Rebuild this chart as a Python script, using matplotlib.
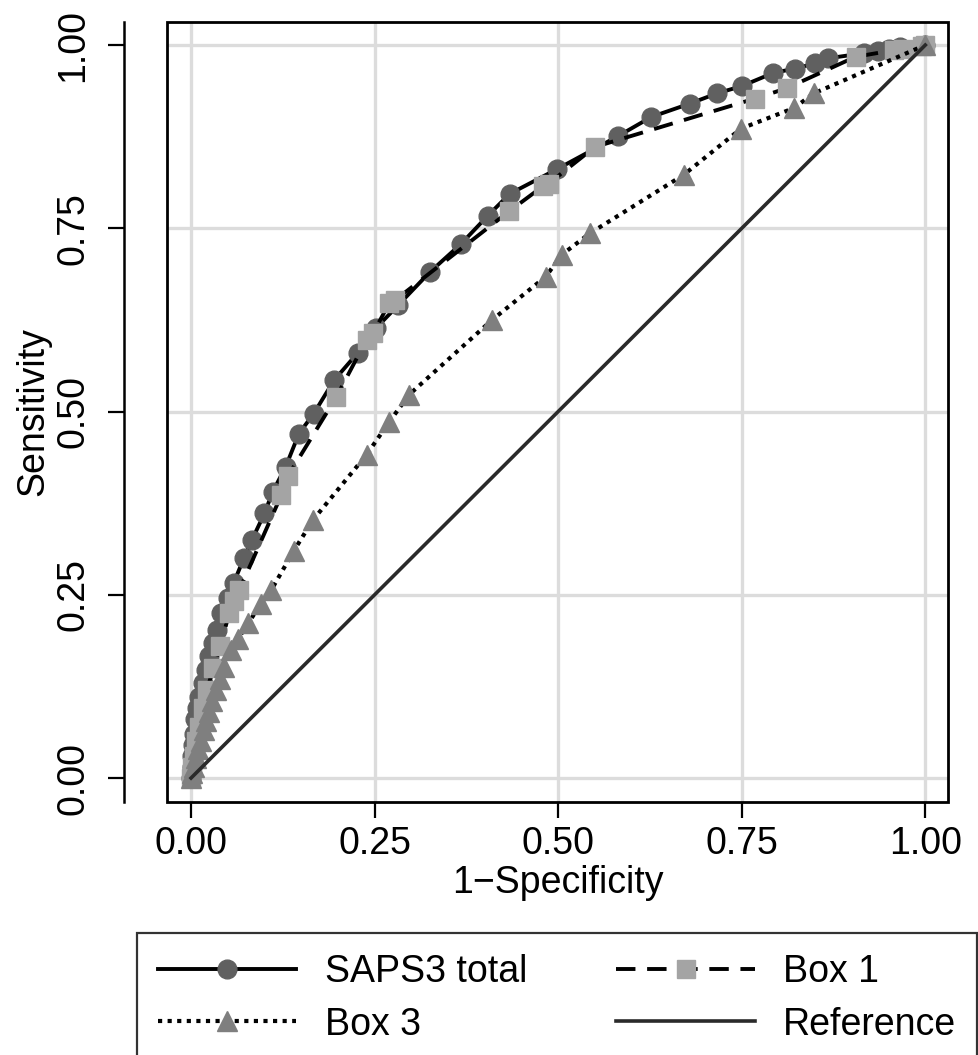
import matplotlib
matplotlib.use("Agg")
import matplotlib.pyplot as plt
from matplotlib.patches import Rectangle

plt.rcParams['font.family'] = ['Liberation Sans', 'DejaVu Sans']

# ============================================================
# DATA - ROC curve points
# ============================================================
saps3_x = [0, 0.001, 0.002, 0.003, 0.004, 0.006, 0.008, 0.011, 0.016, 0.020,
           0.025, 0.030, 0.036, 0.041, 0.050, 0.058, 0.072, 0.083, 0.100, 0.111,
           0.129, 0.147, 0.167, 0.195, 0.227, 0.252, 0.282, 0.325, 0.368, 0.404,
           0.434, 0.499, 0.582, 0.627, 0.679, 0.716, 0.750, 0.793, 0.823, 0.850,
           0.868, 0.917, 0.935, 0.950, 0.965, 1.0]
saps3_y = [0, 0.015, 0.030, 0.045, 0.060, 0.080, 0.095, 0.111, 0.130, 0.148,
           0.166, 0.184, 0.202, 0.225, 0.245, 0.266, 0.300, 0.325, 0.361, 0.390,
           0.425, 0.470, 0.497, 0.543, 0.580, 0.614, 0.645, 0.690, 0.729, 0.767,
           0.797, 0.831, 0.876, 0.902, 0.920, 0.934, 0.944, 0.962, 0.968, 0.975,
           0.982, 0.989, 0.992, 0.994, 0.997, 1.0]

box1_x = [0, 0.002, 0.004, 0.007, 0.011, 0.016, 0.022, 0.030, 0.040, 0.052,
          0.059, 0.066, 0.123, 0.132, 0.198, 0.239, 0.248, 0.270, 0.278, 0.433,
          0.480, 0.487, 0.550, 0.768, 0.811, 0.905, 0.957, 0.970, 0.995, 1.0]
box1_y = [0, 0.015, 0.030, 0.050, 0.070, 0.095, 0.120, 0.150, 0.180, 0.225,
          0.242, 0.257, 0.386, 0.412, 0.520, 0.598, 0.607, 0.648, 0.652, 0.773,
          0.808, 0.811, 0.861, 0.927, 0.941, 0.984, 0.993, 0.994, 0.999, 1.0]

box3_x = [0, 0.002, 0.004, 0.007, 0.010, 0.013, 0.017, 0.021, 0.025, 0.029,
          0.034, 0.040, 0.045, 0.055, 0.064, 0.078, 0.095, 0.109, 0.140, 0.166,
          0.239, 0.270, 0.297, 0.410, 0.483, 0.505, 0.543, 0.671, 0.749, 0.821,
          0.848, 1.0]
box3_y = [0, 0.007, 0.015, 0.028, 0.040, 0.050, 0.065, 0.078, 0.090, 0.105,
          0.120, 0.135, 0.152, 0.175, 0.190, 0.211, 0.238, 0.256, 0.310, 0.352,
          0.441, 0.486, 0.523, 0.625, 0.684, 0.714, 0.743, 0.823, 0.886, 0.914,
          0.934, 1.0]

ref_x = [0, 1]
ref_y = [0, 1]

ticks = [0, 0.25, 0.5, 0.75, 1.0]
tick_labels = ["0.00", "0.25", "0.50", "0.75", "1.00"]

# ============================================================
# FIGURE
# ============================================================
fig = plt.figure(figsize=(9.79, 10.55), dpi=100)
ax = fig.add_axes([0.1706, 0.2398, 0.7978, 0.7393])

ax.plot(saps3_x, saps3_y, color='black', lw=2.8, marker='o', ms=13.5,
        mfc='#606060', mec='#606060', label='SAPS3 total', zorder=3)
ax.plot(box1_x, box1_y, color='black', lw=2.8, ls=(0, (5, 3)), marker='s', ms=12.5,
        mfc='#a4a4a4', mec='#a4a4a4', label='Box 1', zorder=4)
ax.plot(box3_x, box3_y, color='black', lw=3.0, ls=(0, (1, 1.3)), marker='^', ms=15,
        mfc='#7f7f7f', mec='#7f7f7f', label='Box 3', zorder=5)
ax.plot(ref_x, ref_y, color='#2a2a2a', lw=2.6, label='Reference', zorder=6)

ax.set_xlim(-0.0327, 1.031)
ax.set_ylim(-0.0327, 1.0314)
ax.set_xticks(ticks)
ax.set_xticklabels(tick_labels)
ax.set_yticks(ticks)
ax.set_yticklabels(tick_labels)
ax.grid(True, color='#dcdcdc', lw=2.4)
ax.set_axisbelow(True)

# frame + detached y axis (Stata look)
for s in ['top', 'right', 'bottom']:
  ax.spines[s].set_visible(False)
ax.spines['left'].set_position(('outward', 31))
ax.spines['left'].set_linewidth(1.8)
ax.add_patch(Rectangle((0, 0), 1, 1, transform=ax.transAxes, fill=False,
                       lw=2.0, ec='black', clip_on=False, zorder=10))

ax.tick_params(axis='both', direction='out', length=11.5, width=1.6,
               labelsize=27, color='black')
ax.tick_params(axis='y', pad=12, labelrotation=90)
for lab in ax.get_yticklabels():
  lab.set_va('center')
ax.tick_params(axis='x', pad=6)

ax.set_xlabel('1\u2212Specificity', fontsize=27, labelpad=2)
ax.set_ylabel('Sensitivity', fontsize=27, labelpad=3)

# ============================================================
# LEGEND - boxed, two columns, below the plot
# ============================================================
handles, labels = ax.get_legend_handles_labels()
order = [0, 2, 1, 3]   # column-wise fill -> rows: SAPS3/Box 1, Box 3/Reference
leg = fig.legend([handles[i] for i in order], [labels[i] for i in order],
                 loc='upper left', bbox_to_anchor=(0.140, 0.002, 0.858, 0.1136),
                 mode='expand', ncol=2, fontsize=27, handlelength=3.7,
                 handletextpad=0.75, labelspacing=0.45, borderpad=0.55,
                 borderaxespad=0.0, fancybox=False, frameon=True)
leg.get_frame().set_edgecolor('black')
leg.get_frame().set_linewidth(1.6)

plt.savefig('out.png', dpi=100)
